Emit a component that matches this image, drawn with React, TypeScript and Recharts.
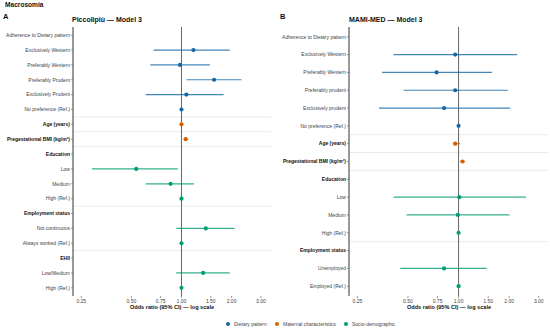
import React from 'react';
import { ScatterChart, Scatter, XAxis, YAxis, ErrorBar, ReferenceLine } from 'recharts';

// ---------- Panel A: Piccolipiù ----------
const labelsA = [
  'Adherence to Dietary pattern', 'Exclusively Western', 'Preferably Western', 'Preferably Prudent',
  'Exclusively Prudent', 'No preference (Ref.)', 'Age (years)', 'Pregestational BMI (kg/m²)',
  'Education', 'Low', 'Medium', 'High (Ref.)', 'Employment status', 'Not continuous',
  'Always worked (Ref.)', 'EHII', 'Low/Medium', 'High (Ref.)',
];
const boldA = [false, false, false, false, false, false, true, true, true, false, false, false, true, false, false, true, false, false];
const orA: (number | null)[] = [null, 1.18, 0.98, 1.57, 1.07, 1.0, 1.0, 1.06, null, 0.535, 0.86, 1.0, null, 1.4, 1.0, null, 1.35, 1.0];
const loA: (number | null)[] = [null, 0.68, 0.65, 1.07, 0.61, 1.0, 0.98, 1.03, null, 0.29, 0.61, 1.0, null, 0.93, 1.0, null, 0.93, 1.0];
const hiA: (number | null)[] = [null, 1.95, 1.48, 2.29, 1.79, 1.0, 1.02, 1.09, null, 0.95, 1.19, 1.0, null, 2.08, 1.0, null, 1.95, 1.0];
const groupA = ['diet', 'diet', 'diet', 'diet', 'diet', 'diet', 'mat', 'mat', 'soc', 'soc', 'soc', 'soc', 'soc', 'soc', 'soc', 'soc', 'soc', 'soc'];
const sepA = [5.5, 6.5, 7.5, 11.5, 14.5];

// ---------- Panel B: MAMI-MED ----------
const labelsB = [
  'Adherence to Dietary pattern', 'Exclusively Western', 'Preferably Western', 'Preferably prudent',
  'Exclusively prudent', 'No preference (Ref.)', 'Age (years)', 'Pregestational BMI (kg/m²)',
  'Education', 'Low', 'Medium', 'High (Ref.)', 'Employment status', 'Unemployed', 'Employed (Ref.)',
];
const boldB = [false, false, false, false, false, false, true, true, true, false, false, false, true, false, false];
const orB: (number | null)[] = [null, 0.955, 0.74, 0.955, 0.82, 1.0, 0.955, 1.056, null, 1.01, 0.99, 1.0, null, 0.82, 1.0];
const loB: (number | null)[] = [null, 0.41, 0.35, 0.47, 0.336, 1.0, 0.93, 1.02, null, 0.41, 0.49, 1.0, null, 0.45, 1.0];
const hiB: (number | null)[] = [null, 2.23, 1.58, 1.97, 2.03, 1.0, 1.02, 1.09, null, 2.52, 2.01, 1.0, null, 1.47, 1.0];
const groupB = ['diet', 'diet', 'diet', 'diet', 'diet', 'diet', 'mat', 'mat', 'soc', 'soc', 'soc', 'soc', 'soc', 'soc', 'soc'];
const sepB = [5.5, 6.5, 7.5, 11.5];

const xTicks = [0.25, 0.5, 0.75, 1, 1.5, 2, 3];
const xDomain: [number, number] = [0.223, 3.45];

const groups = ['diet', 'mat', 'soc'];
const groupNames: Record<string, string> = {
  diet: 'Dietary pattern',
  mat: 'Maternal characteristics',
  soc: 'Socio-demographic',
};
const colors: Record<string, string> = { diet: '#1468a6', mat: '#d55e00', soc: '#009e73' };

const FONT = '"Liberation Sans", Arial, Helvetica, sans-serif';

function buildSeries(or: (number | null)[], lo: (number | null)[], hi: (number | null)[], grp: string[], g: string) {
  const out: { or: number; row: number; err: [number, number] }[] = [];
  or.forEach((v, i) => {
    if (v == null || grp[i] !== g) return;
    out.push({ or: v, row: i, err: [v - (lo[i] as number), (hi[i] as number) - v] });
  });
  return out;
}

const makeTick = (labels: string[], bold: boolean[]) => (props: any) => {
  const { x, y, payload } = props;
  const i = payload.value as number;
  return (
    <text
      x={x}
      y={y}
      dy="0.35em"
      textAnchor="end"
      fontSize={5}
      fontFamily={FONT}
      fontWeight={bold[i] ? 'bold' : 'normal'}
      fill={bold[i] ? '#111' : '#444'}
    >
      {labels[i]}
    </text>
  );
};

function Panel(props: {
  labels: string[]; bold: boolean[]; or: (number | null)[]; lo: (number | null)[]; hi: (number | null)[];
  grp: string[]; seps: number[]; width: number; yWidth: number; right: number;
}) {
  const { labels, bold, or, lo, hi, grp, seps, width, yWidth, right } = props;
  const n = labels.length;
  return (
    <ScatterChart width={width} height={329} margin={{ top: 27, right, bottom: 13, left: 0 }}>
      <XAxis
        type="number"
        dataKey="or"
        scale="log"
        domain={xDomain}
        allowDataOverflow
        ticks={xTicks}
        interval={0}
        tickFormatter={(v: number) => v.toFixed(2)}
        axisLine={false}
        tickLine={{ stroke: '#555', strokeWidth: 0.6 }}
        tickSize={2}
        tickMargin={1}
        height={20}
        tick={{ fontSize: 5, fill: '#444', fontFamily: FONT }}
      />
      <YAxis
        type="number"
        dataKey="row"
        domain={[-0.55, n - 0.45]}
        reversed
        ticks={labels.map((_, i) => i)}
        interval={0}
        width={yWidth}
        axisLine={{ stroke: '#555', strokeWidth: 1.2 }}
        tickLine={{ stroke: '#555', strokeWidth: 0.6 }}
        tickSize={2}
        tickMargin={1}
        tick={makeTick(labels, bold)}
      />
      {seps.map((s) => (
        <ReferenceLine key={s} y={s} stroke="#e6e6e6" strokeWidth={0.8} ifOverflow="extendDomain" />
      ))}
      <ReferenceLine x={1} stroke="#666" strokeWidth={1} />
      {groups.map((g) => (
        <Scatter
          key={g}
          data={buildSeries(or, lo, hi, grp, g)}
          isAnimationActive={false}
          shape={(p: any) => <circle cx={p.cx} cy={p.cy} r={2.1} fill={colors[g]} />}
        >
          <ErrorBar
            dataKey="err"
            direction="x"
            width={0}
            stroke={colors[g]}
            strokeWidth={1.2}
            strokeOpacity={0.8}
            isAnimationActive={false}
          />
        </Scatter>
      ))}
    </ScatterChart>
  );
}

const abs = (left: number, top: number, extra: React.CSSProperties = {}): React.CSSProperties => ({
  position: 'absolute', left, top, fontFamily: FONT, whiteSpace: 'nowrap', lineHeight: 1, ...extra,
});

const legendPos = [{ g: 'diet', x: 228 }, { g: 'mat', x: 277 }, { g: 'soc', x: 346 }];

export default function App() {
  return (
    <div style={{ position: 'absolute', left: 0, top: 0, width: 550, height: 329, background: '#fff', overflow: 'hidden' }}>
      <div style={{ position: 'absolute', left: 0, top: 0 }}>
        <Panel labels={labelsA} bold={boldA} or={orA} lo={loA} hi={hiA} grp={groupA} seps={sepA} width={280} yWidth={73} right={9} />
      </div>
      <div style={{ position: 'absolute', left: 275, top: 0 }}>
        <Panel labels={labelsB} bold={boldB} or={orB} lo={loB} hi={hiB} grp={groupB} seps={sepB} width={275} yWidth={74} right={1} />
      </div>
      <div style={abs(5, 2, { fontSize: 6.6, fontWeight: 'bold', color: '#111' })}>Macrosomia</div>
      <div style={abs(3, 13, { fontSize: 7.5, fontWeight: 'bold', color: '#111' })}>A</div>
      <div style={abs(280, 13, { fontSize: 7.5, fontWeight: 'bold', color: '#111' })}>B</div>
      <div style={abs(72, 16, { fontSize: 7, fontWeight: 'bold', color: '#111' })}>Piccolipiù — Model 3</div>
      <div style={abs(349, 16, { fontSize: 7, fontWeight: 'bold', color: '#111' })}>MAMI-MED — Model 3</div>
      <div style={abs(73, 305, { width: 198, textAlign: 'center', fontSize: 5.6, fontWeight: 'bold', color: '#111' })}>
        Odds ratio (95% CI) — log scale
      </div>
      <div style={abs(349, 305, { width: 200, textAlign: 'center', fontSize: 5.6, fontWeight: 'bold', color: '#111' })}>
        Odds ratio (95% CI) — log scale
      </div>
      {legendPos.map(({ g, x }) => (
        <div key={g} style={abs(x - 2, 321.5, { display: 'flex', alignItems: 'center', fontSize: 5, color: '#444' })}>
          <span style={{ display: 'inline-block', width: 4, height: 4, borderRadius: 2, background: colors[g], marginRight: 4 }} />
          <span>{groupNames[g]}</span>
        </div>
      ))}
    </div>
  );
}
